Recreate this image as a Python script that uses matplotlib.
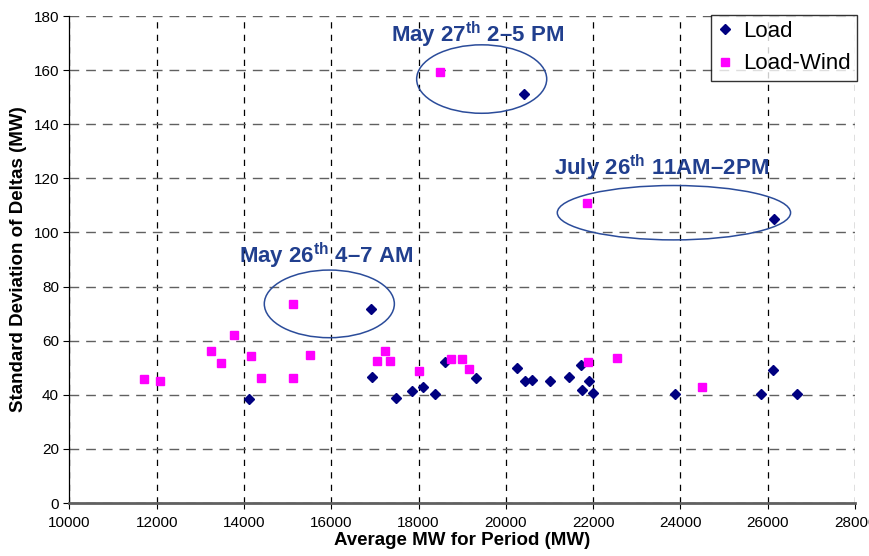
import matplotlib
matplotlib.use("Agg")
import matplotlib.pyplot as plt
from matplotlib.patches import Ellipse

# ----------------------------------------------------
# Data
# ----------------------------------------------------
load_x = [14107, 16915, 16932, 17483, 17842, 18108, 18383, 18612, 19315,
          20261, 20421, 20431, 20605, 21003, 21452, 21720, 21750, 21897,
          21995, 23881, 25837, 26126, 26142, 26669]
load_y = [38.6, 71.6, 46.6, 38.7, 41.3, 42.9, 40.3, 52.0, 46.1,
          49.9, 151.1, 45.1, 45.5, 45.1, 46.6, 50.9, 41.8, 45.1,
          40.8, 40.3, 40.3, 49.3, 105.0, 40.3]

wind_x = [11702, 12069, 13237, 13466, 13764, 14160, 14389, 15115, 15115,
          15504, 17040, 17237, 17338, 18002, 18497, 18735, 18994, 19161,
          21851, 21874, 22538, 24493]
wind_y = [45.7, 45.2, 56.3, 51.6, 62.2, 54.3, 46.3, 73.6, 46.3,
          54.8, 52.6, 56.3, 52.6, 48.9, 159.4, 53.3, 53.3, 49.5,
          111.0, 52.2, 53.7, 43.0]

# annotated events
events = [r"May 26$^{\mathbf{th}}$ 4–7 AM",
          r"May 27$^{\mathbf{th}}$ 2–5 PM",
          r"July 26$^{\mathbf{th}}$ 11AM–2PM"]
ell_x = [15955, 19446, 23851]
ell_y = [73.6, 156.7, 107.3]
ell_w = [2980, 2980, 5345]
ell_h = [25.0, 25.3, 20.1]
lab_x = [15890, 19361, 23577]
lab_y = [91.3, 173.2, 124.0]

# ----------------------------------------------------
# Style
# ----------------------------------------------------
plt.rcParams["font.family"] = ["Liberation Sans", "DejaVu Sans"]
plt.rcParams["mathtext.fontset"] = "custom"
plt.rcParams["mathtext.rm"] = "Liberation Sans"
plt.rcParams["mathtext.bf"] = "Liberation Sans:bold"

ANNOT = "#213F8E"

fig = plt.figure(figsize=(8.69, 5.56), dpi=100)
ax = fig.add_axes([0.0799, 0.0953, 0.9040, 0.8759])

ax.plot(load_x, load_y, linestyle="none", marker="D", markersize=5.5,
        color="#000080", label="Load", zorder=3)
ax.plot(wind_x, wind_y, linestyle="none", marker="s", markersize=6,
        color="#FF00FF", label="Load-Wind", zorder=3)

for cx, cy, w, h in zip(ell_x, ell_y, ell_w, ell_h):
    ax.add_patch(Ellipse((cx, cy), w, h, fill=False, edgecolor="#2B4C9A",
                         linewidth=1.1, zorder=4))

for txt, tx, ty in zip(events, lab_x, lab_y):
    ax.text(tx, ty, txt, color=ANNOT, fontsize=16, fontweight="bold",
            ha="center", va="center", zorder=5)

ax.set_xlim(10000, 28000)
ax.set_ylim(0, 180)
ax.set_xticks(range(10000, 28001, 2000))
ax.set_yticks(range(0, 181, 20))

# grid: vertical black short dashes, horizontal grey longer dashes
ax.grid(axis="x", color="black", linestyle=(0, (5, 5)), linewidth=0.9)
ax.grid(axis="y", color="#606060", linestyle=(0, (7, 5)), linewidth=1.0)
ax.set_axisbelow(True)

for side in ["top", "right"]:
    ax.spines[side].set_visible(False)
ax.spines["left"].set_linewidth(0.9)
ax.spines["bottom"].set_color("#606060")
ax.spines["bottom"].set_linewidth(2.0)

ax.tick_params(direction="out", length=4, width=0.8, labelsize=11,
               colors="black")
ax.tick_params(axis="x", pad=5)

ax.set_xlabel("Average MW for Period (MW)", fontsize=13.5, fontweight="bold",
              labelpad=2)
ax.set_ylabel("Standard Deviation of Deltas (MW)", fontsize=13.5,
              fontweight="bold", labelpad=5)

leg = ax.legend(loc="upper right", bbox_to_anchor=(1.003, 1.003),
                borderaxespad=0, fontsize=16, fancybox=False, frameon=True,
                handlelength=0.7, handletextpad=0.45, borderpad=0.3,
                labelspacing=0.5)
leg.get_frame().set_edgecolor("black")
leg.get_frame().set_linewidth(1.0)

fig.savefig("out.png", dpi=100)
plt.close(fig)
